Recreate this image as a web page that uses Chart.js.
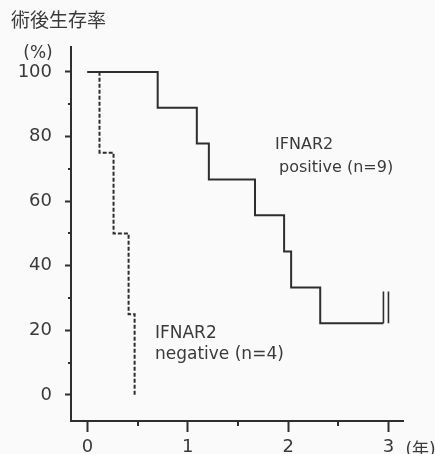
<!DOCTYPE html>
<html>
<head>
<meta charset="utf-8">
<script src="https://cdn.jsdelivr.net/npm/chart.js@4/dist/chart.umd.min.js"></script>
<style>
  html, body { margin: 0; padding: 0; background: #fafafa; overflow: hidden; }
  #wrap { width: 435px; height: 454px; overflow: hidden; }
  canvas { display: block; }
</style>
</head>
<body>
<div id="wrap"><canvas id="km" width="435" height="462" style="width:435px;height:462px"></canvas></div>
<script>
// Kaplan-Meier survival after surgery, by IFNAR2 expression
const yearsPositive    = [0, 0.70, 1.09, 1.21, 1.67, 1.96, 2.03, 2.32, 2.95];
const survivalPositive = [100, 88.9, 77.8, 66.7, 55.6, 44.4, 33.3, 22.2, 22.2];
const yearsNegative    = [0, 0.12, 0.26, 0.41, 0.47];
const survivalNegative = [100, 75, 50, 25, 0];
// censored cases at the end of follow-up (positive group)
const censorYears = [2.95, 3.0];
const censorSpan  = [22.2, 32];

const xTickValues = [0, 0.5, 1, 1.5, 2, 2.5, 3];
const xTickLabels = ['0', '', '1', '', '2', '', '3'];
const yTickValues = [0, 10, 20, 30, 40, 50, 60, 70, 80, 90, 100];
const yTickLabels = ['0', '', '20', '', '40', '', '60', '', '80', '', '100'];

const titleText = '術後生存率';
const yUnitText = '(%)';
const xUnitText = '(年)';
const groupName = 'IFNAR2';
const positiveText = 'positive (n=9)';
const negativeText = 'negative (n=4)';

const INK = '#2e2e2e';
const TEXT = '#3a3a3a';
const LATIN = '"DejaVu Sans", "Noto Sans CJK JP", sans-serif';

function toPoints(xs, ys) { return xs.map((x, i) => ({ x: x, y: ys[i] })); }

const censorPoints = [];
censorYears.forEach((t, i) => {
  if (i > 0) censorPoints.push({ x: t, y: null });
  censorPoints.push({ x: t, y: censorSpan[0] }, { x: t, y: censorSpan[1] });
});

const decorations = {
  id: 'decorations',
  afterDraw(chart) {
    const { ctx, chartArea, scales } = chart;
    const xs = scales.x, ys = scales.y;
    ctx.save();
    // short minor ticks
    ctx.strokeStyle = INK;
    ctx.lineWidth = 2;
    xTickValues.forEach((v, i) => {
      if (xTickLabels[i] !== '') return;
      const px = Math.round(xs.getPixelForValue(v));
      ctx.beginPath(); ctx.moveTo(px, chartArea.bottom); ctx.lineTo(px, chartArea.bottom + 5); ctx.stroke();
    });
    yTickValues.forEach((v, i) => {
      if (yTickLabels[i] !== '') return;
      const py = Math.round(ys.getPixelForValue(v));
      ctx.beginPath(); ctx.moveTo(chartArea.left - 3, py); ctx.lineTo(chartArea.left, py); ctx.stroke();
    });

    ctx.fillStyle = TEXT;
    // chart title
    ctx.font = '19px "Noto Sans CJK JP", sans-serif';
    ctx.textAlign = 'left';
    ctx.textBaseline = 'middle';
    ctx.fillText(titleText, 11, 20);

    // axis units
    ctx.font = '17px ' + LATIN;
    ctx.textAlign = 'center';
    ctx.textBaseline = 'alphabetic';
    ctx.fillText(yUnitText, 38, 58);
    ctx.textAlign = 'left';
    ctx.fillText(xUnitText, xs.getPixelForValue(3) + 17, 455);

    // group labels
    ctx.font = '16px ' + LATIN;
    const px = xs.getPixelForValue(1.87), py = ys.getPixelForValue(76.2);
    ctx.fillText(groupName, px, py);
    ctx.fillText(positiveText, px + 4, py + 23);

    ctx.font = '17px ' + LATIN;
    const nx = xs.getPixelForValue(0.673), ny = ys.getPixelForValue(17.6);
    ctx.fillText(groupName, nx, ny);
    ctx.fillText(negativeText, nx, ny + 21);
    ctx.restore();
  }
};

new Chart(document.getElementById('km'), {
  type: 'line',
  data: {
    datasets: [
      {
        label: 'IFNAR2 positive',
        data: toPoints(yearsPositive, survivalPositive),
        stepped: 'before',
        borderColor: INK,
        borderWidth: 2,
        pointRadius: 0,
        fill: false
      },
      {
        label: 'IFNAR2 negative',
        data: toPoints(yearsNegative, survivalNegative),
        stepped: 'before',
        borderColor: INK,
        borderWidth: 2,
        borderDash: [4, 2],
        pointRadius: 0,
        fill: false
      },
      {
        label: 'censored',
        data: censorPoints,
        borderColor: INK,
        borderWidth: 1.6,
        pointRadius: 0,
        spanGaps: false,
        fill: false
      }
    ]
  },
  options: {
    responsive: false,
    animation: false,
    events: [],
    layout: { padding: { top: 47, right: 32, left: 0, bottom: 0 } },
    plugins: { legend: { display: false }, tooltip: { enabled: false }, title: { display: false } },
    scales: {
      x: {
        type: 'linear',
        min: -0.164,
        max: 3.145,
        afterBuildTicks: s => { s.ticks = xTickValues.map(v => ({ value: v })); },
        afterFit: s => { s.height = 462 - 421; },
        grid: {
          drawOnChartArea: false,
          drawTicks: true,
          tickLength: 11,
          tickWidth: 2,
          tickColor: c => (c.tick && Number.isInteger(c.tick.value)) ? INK : 'rgba(0,0,0,0)'
        },
        border: { display: true, color: INK, width: 2 },
        ticks: {
          autoSkip: false,
          maxRotation: 0,
          padding: 5,
          color: TEXT,
          font: { family: LATIN, size: 18 },
          callback: (v, i) => xTickLabels[i]
        }
      },
      y: {
        type: 'linear',
        min: -8.05,
        max: 107.7,
        afterBuildTicks: s => { s.ticks = yTickValues.map(v => ({ value: v })); },
        afterFit: s => { s.width = 71; },
        grid: {
          drawOnChartArea: false,
          drawTicks: true,
          tickLength: 6,
          tickWidth: 2,
          tickColor: c => (c.tick && c.tick.value % 20 === 0) ? INK : 'rgba(0,0,0,0)'
        },
        border: { display: true, color: INK, width: 2 },
        ticks: {
          autoSkip: false,
          padding: 13,
          color: TEXT,
          font: { family: LATIN, size: 18 },
          callback: (v, i) => yTickLabels[i]
        }
      }
    }
  },
  plugins: [decorations]
});
</script>
</body>
</html>
